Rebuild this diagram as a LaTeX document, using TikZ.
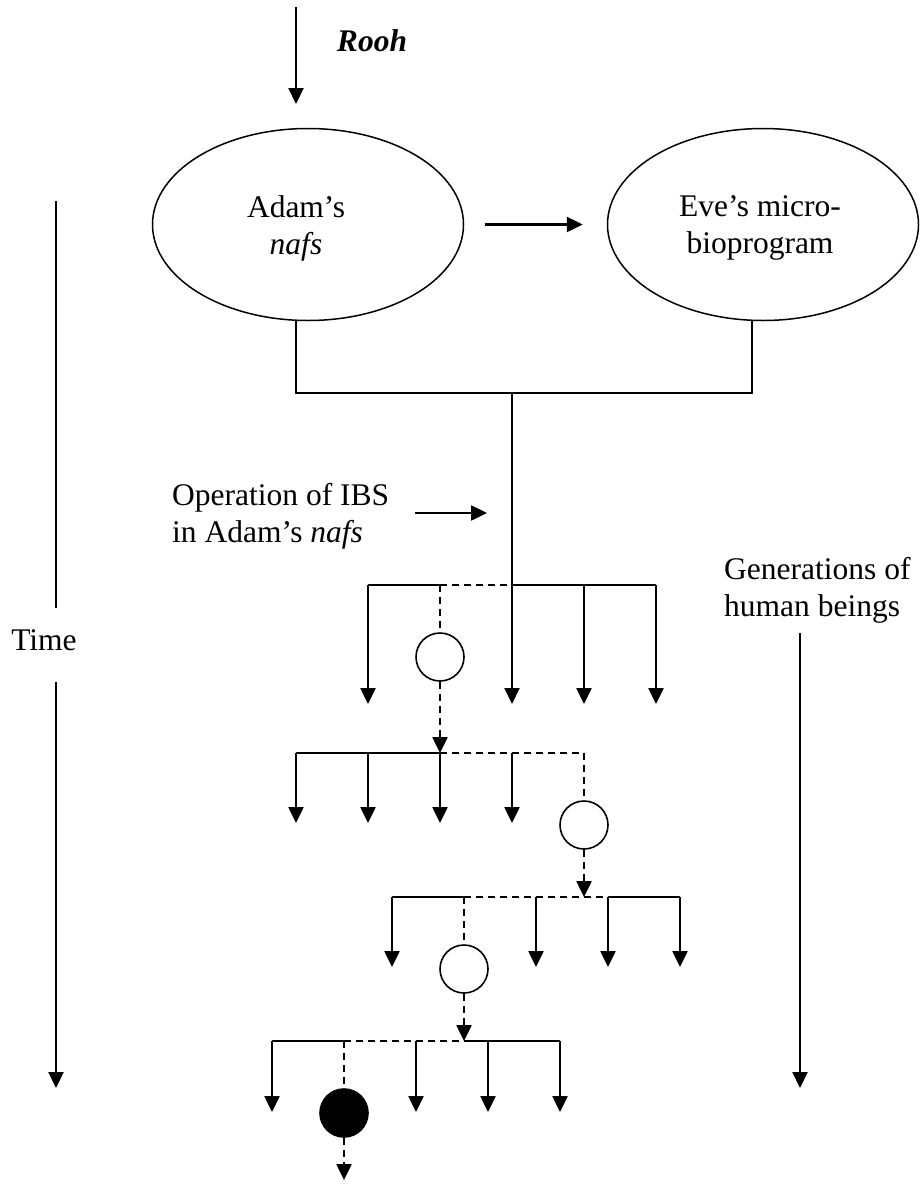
\documentclass[tikz,border=0pt]{standalone}
\usepackage{fontspec}
\setmainfont{Liberation Serif}
\usetikzlibrary{arrows.meta}
\usetikzlibrary{shapes.geometric}
\tikzset{
	soul/.style={
		draw,
		ellipse,
		line width=1.5pt,
		minimum width=311pt,
		minimum height=192pt,
		inner sep=0
	},
	person/.style={
		draw,
		circle,
		line width=1.6pt,
		minimum size=48pt,
		inner sep=0
	}
}

\begin{document}
\begin{tikzpicture}[x=1pt,y=-1pt,font=\fontsize{31.5}{37}\selectfont,
	desc/.style={-{Triangle[width=15pt,length=16pt]},line width=2.5pt},
	lineage/.style={dash pattern=on 7pt off 5pt,line width=2.5pt}]
	\useasboundingbox (0,0) rectangle (921,1186);
	
	% (Rooh)
	\coordinate (rooh top) at (296,7);
	\coordinate (rooh tip) at (296,104);
	\draw[desc,line width=2.2pt] (rooh top) -- (rooh tip);
	\node (rooh) at (372,41) {\textbf{\textit{Rooh}}};
	
	% (Adam and Eve)
	\node[soul] (adam) at (308,224.5) {};
	\node[align=center] (adam txt) at (296,228) {Adam’s\\\textit{nafs}};
	\node[soul] (eve) at (763,224.5) {};
	\node[align=center] (eve txt) at (760,228) {Eve’s micro-\\bioprogram};
	\draw[desc] ([xshift=21pt]adam.east) -- ([xshift=-24pt]eve.west);
	\coordinate (adam foot) at (296,321);
	\coordinate (eve foot) at (752,321);
	\coordinate (join) at (512,393);
	\draw[line width=1.6pt] (adam foot) |- (join) -| (eve foot);
	
	% (Time)
	\node (time) at (44,640) {Time};
	\coordinate (time top) at (56,201);
	\coordinate (time gap a) at (56,608);
	\coordinate (time gap b) at (56,682);
	\coordinate (time tip) at (56,1088);
	\draw[line width=2.2pt] (time top) -- (time gap a);
	\draw[desc,line width=2.2pt] (time gap b) -- (time tip);
	
	% (IBS, generations)
	\node[anchor=west,align=left,inner sep=0] (ibs) at (172,516) {Operation of IBS\\in Adam’s \textit{nafs}};
	\coordinate (ibs from) at (415,513);
	\coordinate (ibs tip) at (487,513);
	\draw[desc] (ibs from) -- (ibs tip);
	\node[anchor=west,align=left,inner sep=0] (gen) at (724,590) {Generations of\\human beings};
	\coordinate (gen top) at (800,633);
	\coordinate (gen tip) at (800,1088);
	\draw[desc,line width=2.2pt] (gen top) -- (gen tip);
	
	% (first generation)
	\foreach \x [count=\i] in {368,440,512,584,656} \coordinate (a\i) at (\x,585);
	\coordinate (ta) at (0,704);
	\draw[line width=2.5pt] (a1) -- (a2) (a3) -- (a5);
	\draw[lineage] (a2) -- (a3);
	\draw[desc,line width=2pt] (join) -- (a3 |- ta);
	\foreach \i in {1,4,5} \draw[desc] (a\i) -- (a\i |- ta);
	\node[person] (p1) at (440,657) {};
	\draw[lineage] (a2) -- (p1);
	
	% (second generation)
	\foreach \x [count=\i] in {296,368,440,512,584} \coordinate (b\i) at (\x,753);
	\coordinate (tb) at (0,823);
	\draw[desc,lineage] (p1) -- (b3);
	\draw[line width=2.5pt] (b1) -- (b3);
	\draw[lineage] (b3) -- (b5);
	\foreach \i in {1,...,4} \draw[desc] (b\i) -- (b\i |- tb);
	\node[person] (p2) at (584,825) {};
	\draw[lineage] (b5) -- (p2);
	
	% (third generation)
	\foreach \x [count=\i] in {392,464,536,608,680} \coordinate (c\i) at (\x,897);
	\coordinate (c in) at (584,897);
	\coordinate (tc) at (0,967);
	\draw[desc,lineage] (p2) -- (c in);
	\draw[line width=2.5pt] (c1) -- (c2) (c4) -- (c5);
	\draw[lineage] (c2) -- (c4);
	\foreach \i in {1,3,4,5} \draw[desc] (c\i) -- (c\i |- tc);
	\node[person] (p3) at (464,969) {};
	\draw[lineage] (c2) -- (p3);
	
	% (fourth generation)
	\foreach \x [count=\i] in {272,344,416,488,560} \coordinate (d\i) at (\x,1041);
	\coordinate (d in) at (464,1041);
	\coordinate (td) at (0,1112);
	\draw[desc,lineage] (p3) -- (d in);
	\draw[line width=2.5pt] (d1) -- (d2) (d in) -- (d5);
	\draw[lineage] (d2) -- (d in);
	\foreach \i in {1,3,4,5} \draw[desc] (d\i) -- (d\i |- td);
	\node[person,fill=black] (p4) at (344,1113) {};
	\coordinate (p4 tip) at (344,1180);
	\draw[lineage] (d2) -- (p4);
	\draw[desc,lineage] (p4) -- (p4 tip);
\end{tikzpicture}
\end{document}
